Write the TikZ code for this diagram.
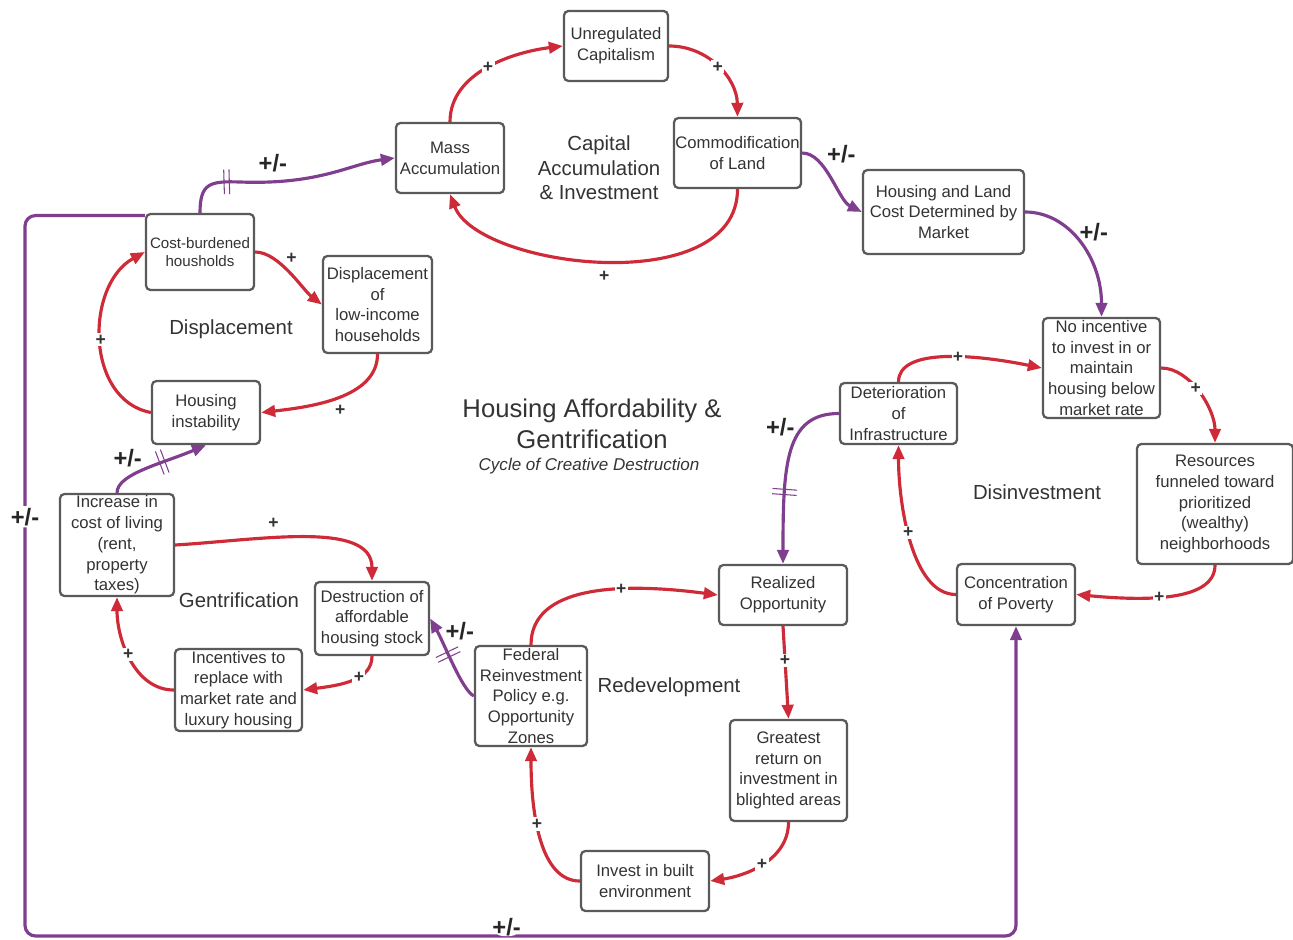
\documentclass[tikz,border=0pt]{standalone}
\usepackage{fontspec}
\setmainfont{Liberation Sans}
\usetikzlibrary{arrows.meta,decorations.markings}

\definecolor{linkred}{HTML}{CF2A37}
\definecolor{linkpurple}{HTML}{803E8F}
\definecolor{boxgray}{HTML}{5A5A5A}
\definecolor{txtgray}{HTML}{333333}

\newcommand{\boxfont}{\fontsize{9.5}{11.8}\selectfont}
\newcommand{\smallboxfont}{\fontsize{8.6}{10.4}\selectfont}
\newcommand{\loopfont}{\fontsize{11.6}{14}\selectfont}
\newcommand{\titlefont}{\fontsize{14.6}{17.6}\selectfont}
\newcommand{\subtitlefont}{\fontsize{9.7}{12}\selectfont\itshape}
\newcommand{\signfont}{\fontsize{10}{12}\selectfont\bfseries}
\newcommand{\mixfont}{\fontsize{13.5}{15}\selectfont\bfseries}

\tikzset{
  box/.style={draw=boxgray, line width=1.3pt, rounded corners=2.5pt, fill=white,
    text=txtgray, align=center, font=\boxfont, inner xsep=1pt, inner ysep=0pt},
  reinforce/.style={draw=linkred, line width=1.8pt, -{Triangle[length=8pt,width=6.5pt]}},
  balance/.style={color=linkpurple, line width=1.8pt, -{Triangle[length=8pt,width=6.5pt]}},
  plus/.style={fill=white, inner sep=0.8pt, text=txtgray, font=\signfont},
  plusminus/.style={inner sep=1pt, text=black!85, font=\mixfont},
  looplabel/.style={text=txtgray, align=center, font=\loopfont},
  delay/.style={postaction={decorate, decoration={markings, mark=at position #1 with
    {\draw[-, line width=0.6pt] (-1.5pt,-7pt) -- (-1.5pt,7pt) (1.5pt,-7pt) -- (1.5pt,7pt);}}}},
}

\begin{document}
\begin{tikzpicture}[x=0.02cm, y=-0.02cm]

	\useasboundingbox (0,0) rectangle (1293,939);

	% capital accumulation loop
	\node[box, minimum width=2.08cm, minimum height=1.4cm] (unreg) at (616,46) {Unregulated\\Capitalism};
	\node[box, minimum width=2.16cm, minimum height=1.4cm] (mass) at (450,158) {Mass\\Accumulation};
	\node[box, minimum width=2.54cm, minimum height=1.4cm, inner xsep=0pt] (comm) at (737.5,153) {Commodification\\of Land};
	\node[box, minimum width=3.22cm, minimum height=1.68cm] (house) at (943.5,212) {Housing and Land\\Cost Determined by\\Market};

	% displacement loop
	\node[box, font=\smallboxfont, minimum width=2.16cm, minimum height=1.52cm] (cost) at (200,252) {Cost-burdened\\housholds};
	\node[box, minimum width=2.18cm, minimum height=1.94cm] (disp) at (377.5,304.5) {Displacement\\of\\low-income\\households};
	\node[box, minimum width=2.16cm, minimum height=1.26cm] (instab) at (206,412.5) {Housing\\instability};

	% disinvestment loop
	\node[box, minimum width=2.34cm, minimum height=2.0cm] (noinc) at (1101.5,368) {No incentive\\to invest in or\\maintain\\housing below\\market rate};
	\node[box, minimum width=2.34cm, minimum height=1.22cm] (det) at (898.5,413.5) {Deterioration\\of\\Infrastructure};
	\node[box, minimum width=3.12cm, minimum height=2.4cm] (res) at (1215,504) {Resources\\funneled toward\\prioritized\\(wealthy)\\neighborhoods};
	\node[box, minimum width=2.36cm, minimum height=1.22cm] (conc) at (1016,594.5) {Concentration\\of Poverty};

	% gentrification loop
	\node[box, minimum width=2.28cm, minimum height=2.04cm] (incr) at (117,545) {Increase in\\cost of living\\(rent,\\property\\taxes)};
	\node[box, minimum width=2.28cm, minimum height=1.46cm] (destr) at (372,618.5) {Destruction of\\affordable\\housing stock};
	\node[box, minimum width=2.54cm, minimum height=1.64cm] (incent) at (238.5,690) {Incentives to\\replace with\\market rate and\\luxury housing};

	% redevelopment loop
	\node[box, minimum width=2.56cm, minimum height=1.2cm] (real) at (783,595) {Realized\\Opportunity};
	\node[box, minimum width=2.24cm, minimum height=2.0cm] (fed) at (531,696) {Federal\\Reinvestment\\Policy e.g.\\Opportunity\\Zones};
	\node[box, minimum width=2.34cm, minimum height=2.02cm] (great) at (788.5,770.5) {Greatest\\return on\\investment in\\blighted areas};
	\node[box, minimum width=2.56cm, minimum height=1.2cm] (invest) at (645,881) {Invest in built\\environment};

	% loop names and title
	\node[looplabel] (capital) at (599,168) {Capital\\Accumulation\\\& Investment};
	\node[looplabel] (displacement) at (231,329) {Displacement};
	\node[looplabel] (disinvestment) at (1037,492) {Disinvestment};
	\node[looplabel] (gentrification) at (239,600) {Gentrification};
	\node[looplabel] (redevelopment) at (669,687) {Redevelopment};
	\node[looplabel, font=\titlefont] (title) at (592,424) {Housing Affordability \&\\Gentrification};
	\node[looplabel, font=\subtitlefont] (subtitle) at (589,466) {Cycle of Creative Destruction};

	% capital accumulation links
	\draw[reinforce] (mass.north) .. controls (450,72) and (514,52) .. (unreg.west) node[pos=0.5, plus] {+};
	\draw[reinforce] (unreg.east) .. controls (708,46) and (737,78) .. (comm.north) node[pos=0.5, plus] {+};
	\draw[reinforce] (comm.south) .. controls (737.5,300) and (478,268) .. (mass.south) node[pos=0.5, plus, below=4pt] {+};

	% market links
	\draw[balance] (comm.east) .. controls (826,153) and (838,200) .. (house.west) node[pos=0.35, plusminus, above right=0pt] {+/-};
	\draw[balance] (house.east) .. controls (1069,212) and (1101.5,258) .. (noinc.north) node[pos=0.4, plusminus, right=3pt] {+/-};

	% disinvestment links
	\draw[reinforce] (det.north) .. controls (898.5,348) and (973,354) .. (noinc.west) node[pos=0.58, plus] {+};
	\draw[reinforce] (noinc.east) .. controls (1190,368) and (1215,409) .. (res.north) node[pos=0.45, plus] {+};
	\draw[reinforce] (res.south) .. controls (1215,604) and (1135,600) .. (conc.east) node[pos=0.55, plus] {+};
	\draw[reinforce] (conc.west) .. controls (912,594.5) and (898.5,504) .. (det.south) node[pos=0.55, plus] {+};
	\draw[balance, delay=0.6] (det.west) .. controls (785,413.5) and (783,465) .. (real.north) node[pos=0.3, plusminus, left=3pt] {+/-};

	% displacement links
	\draw[balance, delay=0.22] (cost.north) .. controls (200,183) and (210,181) .. (240,182)
		.. controls (320,185) and (350,164) .. (mass.west) node[pos=0.15, plusminus, above=4pt] {+/-};
	\draw[reinforce] (cost.east) .. controls (279,252) and (303,290) .. (disp.west) node[pos=0.4, plus, above right=0pt] {+};
	\draw[reinforce] (disp.south) .. controls (377.5,398) and (310,407) .. (instab.east) node[pos=0.48, plus, below=3pt] {+};
	\draw[reinforce] (instab.west) .. controls (85,400) and (85,285) .. (cost.west) node[pos=0.5, plus] {+};

	% big outer link
	\draw[balance, rounded corners=6pt] ([yshift=-1.5pt]cost.north west) -| (25,936)
		node[pos=0.709, plusminus, fill=white] {+/-}
		-| (conc.south) node[pos=0.243, plusminus, fill=white, inner sep=0pt, yshift=5pt] {+/-};

	% gentrification links
	\draw[balance, delay=0.55] (incr.north) .. controls (117,474) and (161,464) .. (instab.south) node[pos=0.3, plusminus, above=4pt] {+/-};
	\draw[reinforce] (incr.east) .. controls (260,540) and (372,520) .. (destr.north) node[pos=0.37, plus, above=4pt] {+};
	\draw[reinforce] (destr.south) .. controls (372,680) and (342,685) .. (incent.east) node[pos=0.4, plus] {+};
	\draw[reinforce] (incent.west) .. controls (135,690) and (117,640) .. (incr.south) node[pos=0.55, plus] {+};

	% redevelopment links
	\draw[balance, delay=0.55] (fed.west) .. controls (462,690) and (445,645) .. (destr.east) node[pos=0.85, plusminus, right=3pt] {+/-};
	\draw[reinforce] (fed.north) .. controls (531,586) and (619,582) .. (real.west) node[pos=0.65, plus] {+};
	\draw[reinforce] (real.south) -- (great.north) node[pos=0.37, plus] {+};
	\draw[reinforce] (great.south) .. controls (788.5,861) and (744,876) .. (invest.east) node[pos=0.5, plus] {+};
	\draw[reinforce] (invest.west) .. controls (541,881) and (531,816) .. (fed.south) node[pos=0.6, plus] {+};

\end{tikzpicture}
\end{document}
